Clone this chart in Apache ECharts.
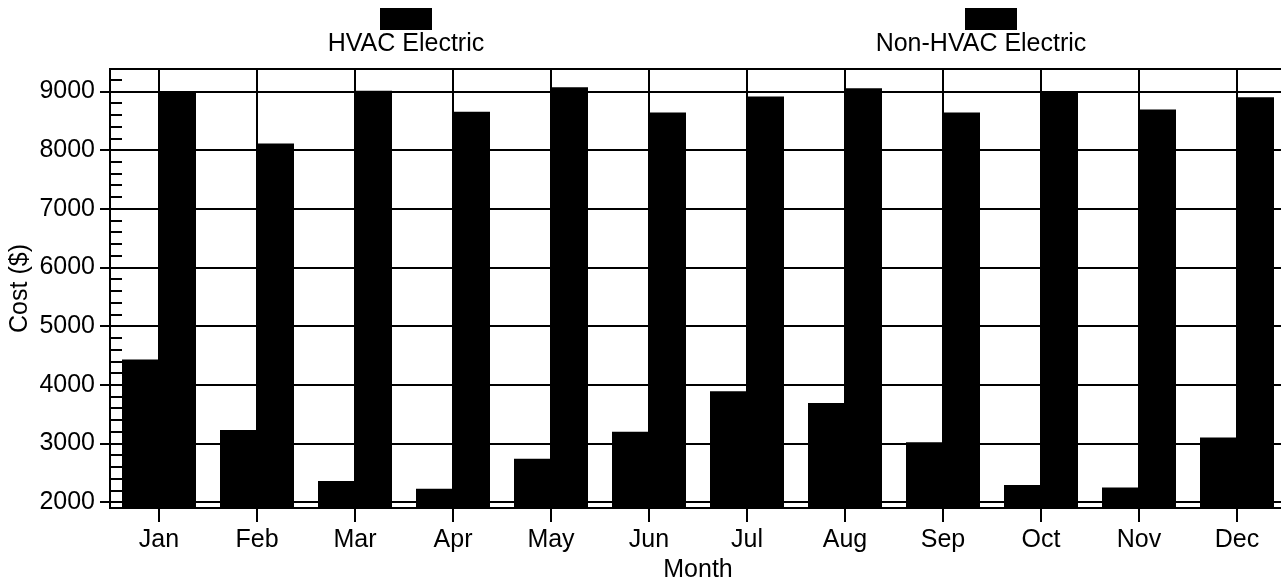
<!DOCTYPE html>
<html>
<head>
<meta charset="utf-8">
<script src="https://cdn.jsdelivr.net/npm/echarts@6/dist/echarts.min.js"></script>
<style>
  html, body { margin: 0; padding: 0; background: #fff; }
  #main { width: 1281px; height: 584px; }
</style>
</head>
<body>
<div id="main"></div>
<script>
var myChart = echarts.init(document.getElementById('main'));

// 月份
var months = ['Jan', 'Feb', 'Mar', 'Apr', 'May', 'Jun', 'Jul', 'Aug', 'Sep', 'Oct', 'Nov', 'Dec'];
// 两组柱子数据 (单位: $)
var hvacData = [4430, 3230, 2360, 2230, 2740, 3200, 3890, 3690, 3020, 2290, 2250, 3100];
var nonHvacData = [8990, 8110, 9010, 8650, 9070, 8640, 8910, 9050, 8640, 8980, 8690, 8900];
// Y轴刻度
var yLabels = [2000, 3000, 4000, 5000, 6000, 7000, 8000, 9000];
var yMinorTicks = [2000, 2200, 2400, 2600, 2800, 3000, 3200, 3400, 3600, 3800, 4000, 4200, 4400, 4600, 4800,
    5000, 5200, 5400, 5600, 5800, 6000, 6200, 6400, 6600, 6800, 7000, 7200, 7400, 7600, 7800,
    8000, 8200, 8400, 8600, 8800, 9000, 9200];
var yMin = 1900;
var yMax = 9380;

var font = "'Liberation Sans', Arial, Helvetica, sans-serif";
var fs = 25;

// 图例: 色块在上, 文字在下
function legendFor(name, left, shift) {
    return {
        data: [name],
        left: left,
        top: 8,
        padding: 0,
        itemWidth: 0,
        itemHeight: 0,
        selectedMode: false,
        formatter: function (n) {
            return '{sp|}{box|}\n{name|' + n + '}';
        },
        textStyle: {
            rich: {
                sp: { width: shift, height: 22, align: 'center' },
                box: { backgroundColor: '#000', width: 52, height: 22, align: 'center' },
                name: { width: 300, align: 'center', fontSize: fs, lineHeight: 28, color: '#000', fontFamily: font }
            }
        }
    };
}

myChart.setOption({
    animation: false,
    backgroundColor: '#fff',
    legend: [
        legendFor('HVAC Electric', 251, 0),
        legendFor('Non-HVAC Electric', 826, 20)
    ],
    grid: {
        left: 110,
        right: -5,
        top: 69,
        bottom: 76,
        outerBoundsMode: 'none',
        containLabel: false,
        show: true,
        borderColor: '#000',
        borderWidth: 2,
        backgroundColor: 'transparent'
    },
    xAxis: {
        type: 'category',
        data: months,
        name: 'Month',
        nameLocation: 'middle',
        nameGap: 50,
        nameTextStyle: { color: '#000', fontSize: fs, fontFamily: font },
        axisLine: { show: true, lineStyle: { color: '#000', width: 2 } },
        axisTick: { show: true, alignWithLabel: true, length: 14, lineStyle: { color: '#000', width: 2 } },
        axisLabel: { color: '#000', fontSize: fs, fontFamily: font, margin: 20 },
        splitLine: { show: true, alignWithLabel: true, lineStyle: { color: '#000', width: 2 } }
    },
    yAxis: [{
        type: 'value',
        min: yMin,
        max: yMax,
        splitNumber: 7,
        minInterval: 1000,
        maxInterval: 1000,
        position: 'left',
        name: 'Cost ($)',
        nameLocation: 'middle',
        nameGap: 77,
        nameMoveOverlap: false,
        nameTextStyle: { color: '#000', fontSize: fs, fontFamily: font },
        axisLine: { show: true, lineStyle: { color: '#000', width: 2 } },
        axisTick: { show: true, length: 10, customValues: yLabels, lineStyle: { color: '#000', width: 2 } },
        axisLabel: {
            color: '#000', fontSize: fs, fontFamily: font, margin: 15, customValues: yLabels,
            formatter: function (v) { return String(v); }
        },
        splitLine: { show: true, lineStyle: { color: '#000', width: 2 } }
    }, {
        type: 'value',
        min: yMin,
        max: yMax,
        position: 'left',
        offset: 0,
        axisLine: { show: false },
        axisLabel: { show: false },
        splitLine: { show: false },
        axisTick: { show: true, inside: true, length: 12, customValues: yMinorTicks, lineStyle: { color: '#000', width: 2 } }
    }],
    series: [{
        name: 'HVAC Electric',
        type: 'bar',
        barWidth: 37,
        barGap: '0%',
        itemStyle: { color: '#000' },
        data: hvacData
    }, {
        name: 'Non-HVAC Electric',
        type: 'bar',
        barWidth: 37,
        barGap: '0%',
        itemStyle: { color: '#000' },
        data: nonHvacData
    }]
});
</script>
</body>
</html>
